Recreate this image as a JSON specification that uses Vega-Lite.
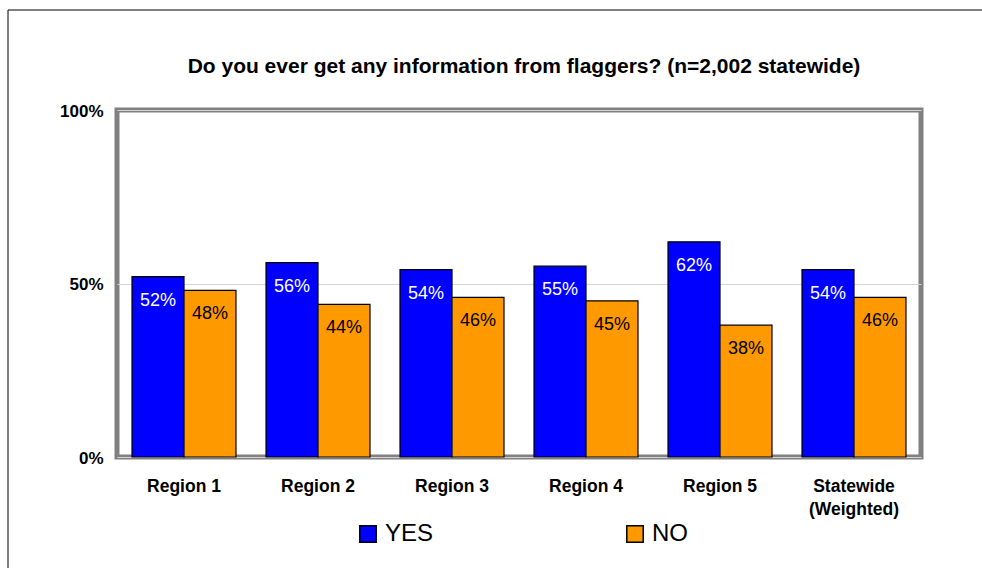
{
  "$schema": "https://vega.github.io/schema/vega-lite/v6.json",
  "autosize": {"type": "none"},
  "width": 804,
  "height": 347,
  "padding": {"left": 117, "top": 110, "right": 61, "bottom": 111},
  "background": "white",
  "title": {
    "text": "Do you ever get any information from flaggers? (n=2,002 statewide)",
    "font": "Liberation Sans",
    "fontSize": 21,
    "fontWeight": "bold",
    "color": "black",
    "anchor": "middle",
    "dx": 5,
    "dy": 92,
    "offset": 24
  },
  "data": {
    "values": [
      {"region": "Region 1", "answer": "YES", "pct": 0.52},
      {"region": "Region 1", "answer": "NO", "pct": 0.48},
      {"region": "Region 2", "answer": "YES", "pct": 0.56},
      {"region": "Region 2", "answer": "NO", "pct": 0.44},
      {"region": "Region 3", "answer": "YES", "pct": 0.54},
      {"region": "Region 3", "answer": "NO", "pct": 0.46},
      {"region": "Region 4", "answer": "YES", "pct": 0.55},
      {"region": "Region 4", "answer": "NO", "pct": 0.45},
      {"region": "Region 5", "answer": "YES", "pct": 0.62},
      {"region": "Region 5", "answer": "NO", "pct": 0.38},
      {"region": "Statewide (Weighted)", "answer": "YES", "pct": 0.54},
      {"region": "Statewide (Weighted)", "answer": "NO", "pct": 0.46}
    ]
  },
  "encoding": {
    "x": {
      "field": "region",
      "type": "nominal",
      "sort": null,
      "scale": {"paddingInner": 0.224, "paddingOuter": 0.112},
      "axis": {
        "title": null,
        "labelAngle": 0,
        "domain": false,
        "ticks": false,
        "labelFont": "Liberation Sans",
        "labelFontSize": 17.5,
        "labelFontWeight": "bold",
        "labelColor": "black",
        "labelPadding": 20,
        "labelLineHeight": 23,
        "labelExpr": "datum.label == 'Statewide (Weighted)' ? ['Statewide', '(Weighted)'] : datum.label"
      }
    },
    "xOffset": {"field": "answer", "type": "nominal", "sort": ["YES", "NO"], "scale": {"domain": ["YES", "NO"]}},
    "y": {
      "field": "pct",
      "type": "quantitative",
      "scale": {"domain": [0, 1], "nice": false},
      "axis": {
        "title": null,
        "values": [0, 0.5, 1],
        "format": ".0%",
        "domain": false,
        "ticks": false,
        "grid": true,
        "gridColor": "#d4d4d4",
        "gridWidth": 1,
        "labelFont": "Liberation Sans",
        "labelFontSize": 17,
        "labelFontWeight": "bold",
        "labelColor": "black",
        "labelPadding": 14,
        "labelOffset": 1
      }
    }
  },
  "layer": [
    {
      "mark": {"type": "bar", "stroke": "black", "strokeWidth": 1.2},
      "encoding": {
        "color": {
          "field": "answer",
          "type": "nominal",
          "scale": {"domain": ["YES", "NO"], "range": ["#0000FF", "#FF9900"]},
          "legend": {
            "title": null,
            "orient": "none",
            "direction": "horizontal",
            "legendX": 239,
            "legendY": 412,
            "symbolType": "square",
            "symbolSize": 270,
            "symbolStrokeColor": "black",
            "symbolStrokeWidth": 1.5,
            "symbolOpacity": 1,
            "labelFont": "Liberation Sans",
            "labelFontSize": 24,
            "labelColor": "black",
            "labelOffset": 5,
            "columnPadding": 189
          }
        }
      }
    },
    {
      "mark": {"type": "text", "baseline": "middle", "dy": 24, "font": "Liberation Sans", "fontSize": 18},
      "encoding": {
        "text": {"field": "pct", "type": "quantitative", "format": ".0%"},
        "color": {"condition": {"test": "datum.answer == 'YES'", "value": "white"}, "value": "black"}
      }
    },
    {
      "transform": [{"filter": "datum.region == 'Region 1' && datum.answer == 'YES'"}],
      "mark": {"type": "point", "opacity": 0, "size": 1},
      "encoding": {
        "shape": {
          "field": "answer",
          "type": "nominal",
          "legend": {
            "title": null,
            "orient": "none",
            "legendX": -109.5,
            "legendY": -100.5,
            "padding": 500,
            "strokeColor": "black",
            "fillColor": null,
            "symbolOpacity": 0,
            "symbolSize": 1,
            "labelOpacity": 0,
            "labelFontSize": 1,
            "encode": {"legend": {"update": {"strokeWidth": {"value": 2}}}}
          }
        }
      }
    }
  ],
  "config": {
    "view": {"stroke": "#808080", "strokeWidth": 5}
  }
}
